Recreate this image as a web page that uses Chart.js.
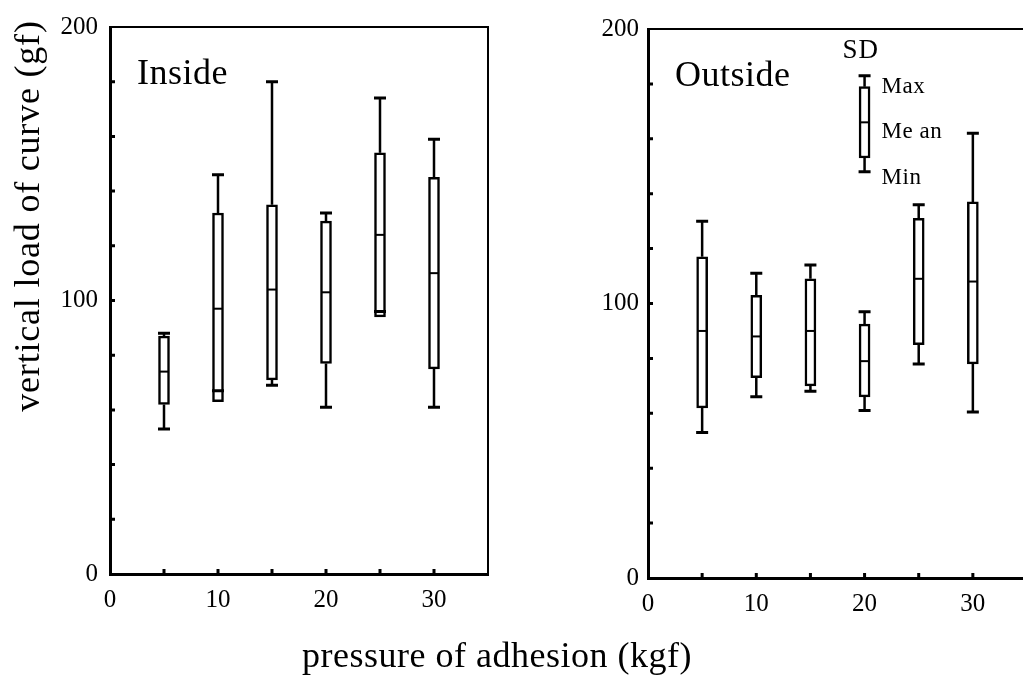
<!DOCTYPE html>
<html>
<head>
<meta charset="utf-8">
<script src="https://cdn.jsdelivr.net/npm/chart.js@4"></script>
<style>
  body { margin: 0; background: #fff; overflow: hidden; width: 1023px; height: 675px; position: relative; font-family: "Liberation Serif", serif; }
  canvas { position: absolute; top: 0; }
  #left { left: 0; }
  #right { left: 510px; }
  .title { position: absolute; font-size: 36px; line-height: 40px; text-align: center; color: #000; white-space: nowrap; }
  #ytitle { left: -223px; top: 196px; width: 500px; transform: rotate(-90deg); letter-spacing: 0.8px; }
  #xtitle { left: 0; top: 635px; width: 994px; letter-spacing: 0.5px; }
</style>
</head>
<body>
<canvas id="left" width="500" height="675"></canvas>
<canvas id="right" width="530" height="675"></canvas>
<div class="title" id="ytitle">vertical load of curve (gf)</div>
<div class="title" id="xtitle">pressure of adhesion (kgf)</div>
<script>
// pressure of adhesion (kgf)
const pressure = [5, 10, 15, 20, 25, 30];

// Inside (gf)
const insideMax    = [88, 146, 180, 132, 174, 159];
const insideSdHigh = [87, 132, 135, 129, 154, 145];
const insideMean   = [74, 97, 104, 103, 124, 110];
const insideSdLow  = [62, 63, 71, 77, 94, 75];
const insideMin    = [53, 67, 69, 61, 96, 61];

// Outside (gf)
const outsideMax    = [130, 111, 114, 97, 136, 162];
const outsideSdHigh = [117, 103, 109, 92.5, 131, 137];
const outsideMean   = [90, 88, 90, 79, 109, 108];
const outsideSdLow  = [62, 73, 70, 66, 85, 78];
const outsideMin    = [53, 66, 68, 61, 78, 60.5];

// key symbol: min, -SD, mean, +SD, max
const keyX = 20;
const keyBox = [148, 153, 166, 179, 183];

const xTickLabels = [0, 10, 20, 30];
const yTickLabels = [0, 100, 200];
const xMarks = [5, 10, 15, 20, 25, 30];
const yMarks = [20, 40, 60, 80, 100, 120, 140, 160, 180];

Chart.defaults.font.family = '"Liberation Serif", serif';
Chart.defaults.color = '#000';

const boxExtras = {
    id: 'boxExtras',
    afterDatasetsDraw(chart) {
        const {ctx, scales: {x, y}} = chart;
        ctx.save();
        ctx.strokeStyle = '#000';
        chart.data.datasets.forEach(ds => {
            ds.data.forEach((pt, i) => {
                const px = x.getPixelForValue(pt.x);
                const lo = y.getPixelForValue(pt.y[0]);
                const hi = y.getPixelForValue(pt.y[1]);
                const pMin = y.getPixelForValue(ds.mins[i]);
                const pMax = y.getPixelForValue(ds.maxs[i]);
                const pMean = y.getPixelForValue(ds.means[i]);
                ctx.lineWidth = 2.5;
                ctx.beginPath();
                if (pMax < hi) { ctx.moveTo(px, hi); ctx.lineTo(px, pMax); }
                if (pMin > lo) { ctx.moveTo(px, lo); ctx.lineTo(px, pMin); }
                ctx.stroke();
                ctx.lineWidth = 2;
                ctx.beginPath();
                ctx.moveTo(px - 5, pMean); ctx.lineTo(px + 5, pMean);
                ctx.stroke();
                ctx.lineWidth = 3;
                ctx.beginPath();
                ctx.moveTo(px - 6, pMax); ctx.lineTo(px + 6, pMax);
                ctx.moveTo(px - 6, pMin); ctx.lineTo(px + 6, pMin);
                ctx.stroke();
            });
        });
        ctx.restore();
    },
    afterDraw(chart, args, opts) {
        const {ctx, chartArea: a, scales: {x, y}} = chart;
        ctx.save();
        ctx.strokeStyle = '#000';
        // top and right of the frame
        ctx.lineWidth = 2;
        ctx.beginPath();
        ctx.moveTo(a.left, a.top); ctx.lineTo(a.right, a.top); ctx.lineTo(a.right, a.bottom);
        ctx.stroke();
        // small inward tick marks
        ctx.lineWidth = 3;
        ctx.beginPath();
        yMarks.forEach(v => {
            const py = y.getPixelForValue(v);
            ctx.moveTo(a.left, py); ctx.lineTo(a.left + 5, py);
        });
        xMarks.forEach(v => {
            const px = x.getPixelForValue(v);
            ctx.moveTo(px, a.bottom); ctx.lineTo(px, a.bottom - 5);
        });
        ctx.stroke();
        // panel name
        ctx.fillStyle = '#000';
        ctx.font = '36px "Liberation Serif"';
        ctx.letterSpacing = '0.5px';
        ctx.fillText(opts.label, a.left + 27, a.top + 57);
        if (opts.key) {
            const kx = x.getPixelForValue(keyX);
            ctx.font = '27px "Liberation Serif"';
            ctx.letterSpacing = '1px';
            ctx.fillText('SD', kx - 22, y.getPixelForValue(keyBox[4]) - 18);
            ctx.font = '23px "Liberation Serif"';
            ctx.letterSpacing = '0.5px';
            ctx.fillText('Max', kx + 17, y.getPixelForValue(keyBox[3]) + 6);
            ctx.fillText('Me an', kx + 17, y.getPixelForValue(keyBox[2]) + 16);
            ctx.fillText('Min', kx + 17, y.getPixelForValue(keyBox[0]) + 12);
        }
        ctx.restore();
    }
};

function makeChart(id, label, sdLow, sdHigh, mean, min, max, g, withKey) {
    const boxStyle = {
        barThickness: 11,
        grouped: false,
        borderWidth: 2.5,
        borderColor: '#000',
        backgroundColor: '#fff',
        borderSkipped: false
    };
    const datasets = [Object.assign({
        data: pressure.map((p, i) => ({x: p, y: [sdLow[i], sdHigh[i]]})),
        mins: min, maxs: max, means: mean
    }, boxStyle)];
    if (withKey) {
        datasets.push(Object.assign({
            data: [{x: keyX, y: [keyBox[1], keyBox[3]]}],
            mins: [keyBox[0]], maxs: [keyBox[4]], means: [keyBox[2]]
        }, boxStyle));
    }
    return new Chart(document.getElementById(id), {
        type: 'bar',
        data: {datasets: datasets},
        options: {
            responsive: false,
            animation: false,
            layout: {padding: {top: g.padTop, right: g.padRight, left: 0, bottom: 0}},
            plugins: {
                legend: {display: false},
                tooltip: {enabled: false},
                boxExtras: {label: label, key: withKey}
            },
            scales: {
                x: {
                    type: 'linear', min: 0, max: 35, offset: false,
                    afterBuildTicks: s => { s.ticks = xTickLabels.map(v => ({value: v})); },
                    afterFit: s => { s.height = g.xHeight; },
                    ticks: {font: {size: 25}, padding: g.xPad, maxRotation: 0, autoSkip: false},
                    grid: {display: false, drawTicks: false},
                    border: {display: true, width: 3, color: '#000'}
                },
                y: {
                    min: 0, max: 200,
                    afterBuildTicks: s => { s.ticks = yTickLabels.map(v => ({value: v})); },
                    afterFit: s => { s.width = g.yWidth; },
                    ticks: {font: {size: 25}, padding: g.yPad},
                    grid: {display: false, drawTicks: false},
                    border: {display: true, width: 3, color: '#000'}
                }
            }
        },
        plugins: [boxExtras]
    });
}

makeChart('left', 'Inside', insideSdLow, insideSdHigh, insideMean, insideMin, insideMax,
    {padTop: 24, padRight: 12, xHeight: 101, yWidth: 110, xPad: 11, yPad: 12}, false);
makeChart('right', 'Outside', outsideSdLow, outsideSdHigh, outsideMean, outsideMin, outsideMax,
    {padTop: 29, padRight: 13, xHeight: 97, yWidth: 138, xPad: 11, yPad: 9}, true);
</script>
</body>
</html>
